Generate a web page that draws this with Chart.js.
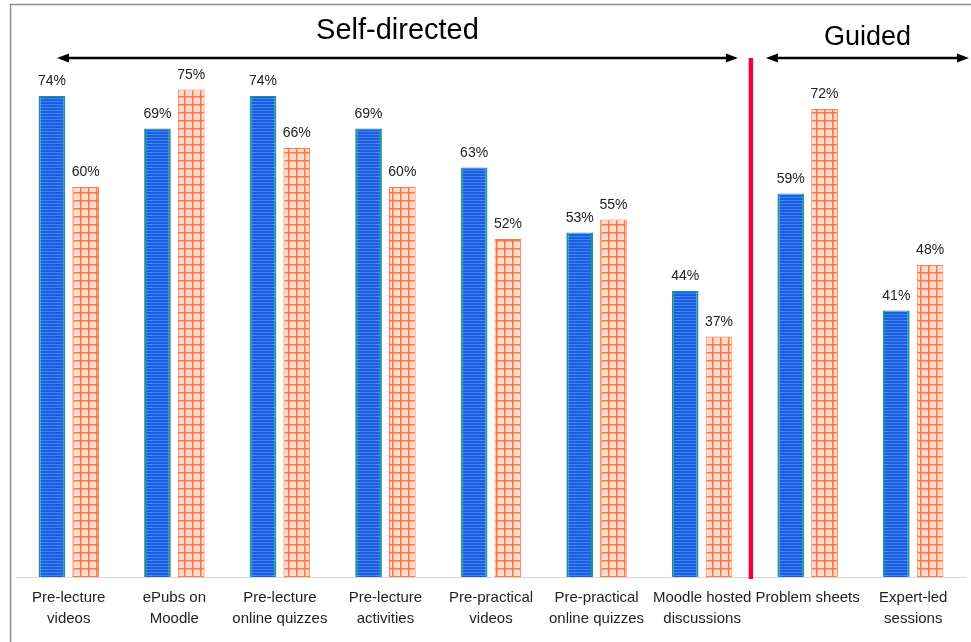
<!DOCTYPE html>
<html>
<head>
<meta charset="utf-8">
<script src="https://cdn.jsdelivr.net/npm/chart.js@4"></script>
<style>
  html, body { margin: 0; padding: 0; background: #fff; }
  #wrap { width: 971px; height: 642px; }
</style>
</head>
<body>
<div id="wrap"><canvas id="chart"></canvas></div>
<script>
// data
const categories = [
  ['Pre-lecture', 'videos'],
  ['ePubs on', 'Moodle'],
  ['Pre-lecture', 'online quizzes'],
  ['Pre-lecture', 'activities'],
  ['Pre-practical', 'videos'],
  ['Pre-practical', 'online quizzes'],
  ['Moodle hosted', 'discussions'],
  ['Problem sheets'],
  ['Expert-led', 'sessions']
];
const blueValues = [74, 69, 74, 69, 63, 53, 44, 59, 41];
const orangeValues = [60, 75, 66, 60, 52, 55, 37, 72, 48];
const groupLabels = ['Self-directed', 'Guided'];

// patterns
function stripePattern() {
  const c = document.createElement('canvas');
  c.width = 4; c.height = 3;
  const g = c.getContext('2d');
  g.fillStyle = '#1d5ce0';
  g.fillRect(0, 0, 4, 3);
  g.fillStyle = '#3d88f2';
  g.fillRect(0, 2, 4, 1);
  return g.createPattern(c, 'repeat');
}
function gridPattern() {
  const c = document.createElement('canvas');
  c.width = 8; c.height = 8;
  const g = c.getContext('2d');
  g.fillStyle = '#ffdccc';
  g.fillRect(0, 0, 8, 8);
  g.fillStyle = '#ff7448';
  g.fillRect(0, 0, 8, 1.5);
  g.fillRect(0, 0, 1.5, 8);
  return g.createPattern(c, 'repeat');
}

// plugins
const decor = {
  id: 'decor',
  beforeDraw(chart) {
    const ctx = chart.ctx;
    ctx.save();
    ctx.strokeStyle = '#8c8c8c';
    ctx.lineWidth = 1.5;
    ctx.beginPath();
    ctx.moveTo(10.5, 642);
    ctx.lineTo(10.5, 4.5);
    ctx.lineTo(971, 4.5);
    ctx.stroke();
    ctx.restore();
  },
  afterDatasetsDraw(chart) {
    const ctx = chart.ctx;
    const x = chart.scales.x;
    const area = chart.chartArea;
    // value labels
    ctx.save();
    ctx.font = '14px "Liberation Sans", Arial, sans-serif';
    ctx.fillStyle = '#222';
    ctx.textAlign = 'center';
    ctx.textBaseline = 'alphabetic';
    chart.data.datasets.forEach((ds, i) => {
      chart.getDatasetMeta(i).data.forEach((bar, j) => {
        ctx.fillText(ds.data[j] + '%', bar.x, bar.y - 11);
      });
    });
    ctx.restore();

    // divider
    const divX = x.getPixelForValue(6.5) - 4;
    const arrowY = 58;
    ctx.save();
    ctx.strokeStyle = '#f0003c';
    ctx.lineWidth = 4.5;
    ctx.beginPath();
    ctx.moveTo(divX, arrowY);
    ctx.lineTo(divX, area.bottom + 2);
    ctx.stroke();

    function arrow(x1, x2, y) {
      ctx.strokeStyle = '#000';
      ctx.fillStyle = '#000';
      ctx.lineWidth = 2.5;
      ctx.beginPath();
      ctx.moveTo(x1 + 8, y);
      ctx.lineTo(x2 - 8, y);
      ctx.stroke();
      ctx.beginPath();
      ctx.moveTo(x1, y);
      ctx.lineTo(x1 + 12, y - 4.5);
      ctx.lineTo(x1 + 12, y + 4.5);
      ctx.closePath();
      ctx.fill();
      ctx.beginPath();
      ctx.moveTo(x2, y);
      ctx.lineTo(x2 - 12, y - 4.5);
      ctx.lineTo(x2 - 12, y + 4.5);
      ctx.closePath();
      ctx.fill();
    }
    arrow(area.left + 41, divX - 13, arrowY);
    arrow(divX + 15, area.right + 3, arrowY);

    ctx.fillStyle = '#000';
    ctx.textAlign = 'center';
    ctx.textBaseline = 'alphabetic';
    ctx.font = '29px "Liberation Sans", Arial, sans-serif';
    ctx.fillText(groupLabels[0], (area.left + 41 + divX - 13) / 2, 39);
    ctx.font = '27px "Liberation Sans", Arial, sans-serif';
    ctx.fillText(groupLabels[1], (divX + 15 + area.right + 3) / 2, 45);
    ctx.restore();
  }
};

const ctx = document.getElementById('chart').getContext('2d');

const data = {
  labels: categories,
  datasets: [
    {
      data: blueValues,
      backgroundColor: stripePattern(),
      borderColor: '#17998c',
      borderWidth: { left: 2, right: 2, top: 1, bottom: 0 },
      borderSkipped: false
    },
    {
      data: orangeValues,
      backgroundColor: gridPattern(),
      borderColor: '#ff7a50',
      borderWidth: 1,
      borderSkipped: false
    }
  ]
};

const config = {
  type: 'bar',
  data: data,
  options: {
    responsive: true,
    maintainAspectRatio: false,
    animation: false,
    categoryPercentage: 0.64,
    barPercentage: 0.79,
    layout: { padding: { left: 16, right: 5, top: 57, bottom: 0 } },
    plugins: {
      legend: { display: false },
      tooltip: { enabled: false }
    },
    scales: {
      x: {
        grid: { display: false, drawTicks: false },
        border: { display: true, color: '#d9d9d9', width: 1 },
        ticks: {
          padding: 11,
          color: '#222',
          maxRotation: 0,
          autoSkip: false,
          font: { family: '"Liberation Sans", Arial, sans-serif', size: 15, lineHeight: 1.35 }
        },
        afterFit(s) { s.height = 65; }
      },
      y: {
        display: false,
        min: 0,
        max: 80
      }
    }
  },
  plugins: [decor]
};

new Chart(ctx, config);
</script>
</body>
</html>
